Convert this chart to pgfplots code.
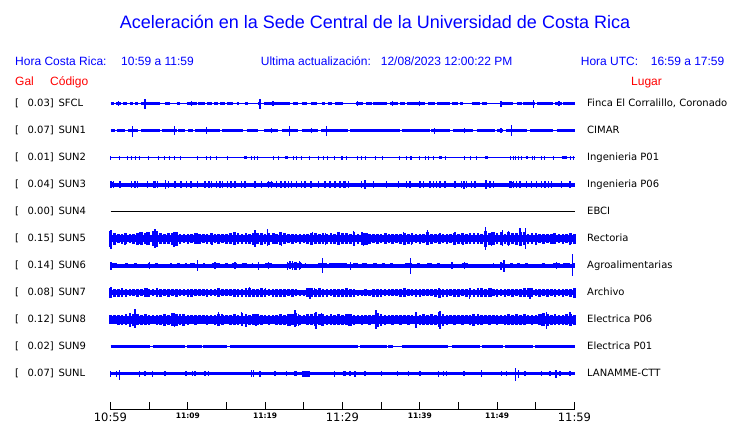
\documentclass[border=0pt]{standalone}
\usepackage{fontspec}
\setmainfont{Liberation Sans}
\newfontfamily\dv{DejaVu Sans}
\usepackage{pgfplots}
\usepackage{pgfplotstable}
\pgfplotsset{compat=1.18}
\definecolor{tb}{RGB}{0,0,255}
\definecolor{tr}{RGB}{255,0,0}
\newcommand\tlL[1]{{\dv\fontsize{11.5}{12}\selectfont #1}}
\newcommand\tlS[1]{{\dv\bfseries\fontsize{7.5}{8}\selectfont #1}}
\pgfplotsset{
 spk/.style={draw=none, mark=none, forget plot, error bars/y dir=both, error bars/y explicit, error bars/error mark=none, error bars/error bar style={draw=tb, line width=#1}},
 seg/.style={tb, line width=#1, forget plot, mark=none},
}
% ---------- data ----------
\pgfplotstableread{
t a
4.46 5
19.33 5
54.68 4
1.0 2.5
10.5 2.5
21 2.5
31.9 2.5
36.5 2.5
40 2.5
50.5 3
58 2.5
}\spkSFCL
\pgfplotstableread{
t up dn
2.82 5 6
8.25 4.5 4.5
12.39 3.5 3.5
23.12 5 5
27.9 5 5
41.88 3 3
45.76 2.2 2.2
51.88 6 5.5
20.84 2.5 2.5
26.0 2.5 2.5
50.5 2.5 2.5
}\spkSUNa
\pgfplotstableread{
t a
0.06 2
1.14 2
2.18 2
2.74 2
3.25 2
3.73 2
4.89 2
6.19 2
6.96 2
7.61 2
8.25 2
8.99 2
11.27 2
12.43 2
12.87 2
13.73 2
15.15 2
18.17 2
18.6 2
19.03 2
21.05 2
21.70 2
23.64 2
24.07 2
24.72 2
25.67 2
26.87 2
27.52 2
28.08 2
28.94 2
29.98 2
29.90 2
30.54 2
31.92 2
32.48 2
32.91 2
34.33 2
35.20 2
37.35 2
38.3 2
38.73 2
38.95 2
40.02 2
40.67 2
41.10 2
41.75 2
43.26 2
45.84 2
46.49 2
47.35 2
51.66 2
52.09 2
52.39 2
52.74 2
53.17 2
54.55 2
54.89 2
55.76 2
56.06 2
57.26 2
59.42 2
59.85 2
}\spkSUNb
\pgfplotstableread{
t a
0.06 3.2
0.37 3.2
1.23 3.2
2.74 3.2
3.17 3.2
3.51 3.2
4.80 3.6
5.54 3.2
5.75 3.2
6.10 3.2
7.13 4.5
7.48 3.2
8.34 3.2
9.12 3.2
9.85 3.2
10.41 3.2
11.27 3.2
12.22 3.2
12.74 3.2
13.08 3.2
13.73 3.2
14.16 3.2
14.46 3.2
15.15 3.2
15.58 3.2
16.10 3.2
16.96 3.2
17.39 3.2
18.68 3.2
19.55 3.2
20.41 3.2
20.84 3.2
21.49 3.2
22.05 3.2
22.56 3.2
22.99 3.2
23.43 3.2
24.07 3.2
24.72 3.2
25.15 3.2
25.92 3.2
26.87 3.2
27.74 3.2
28.38 3.2
29.03 3.2
29.68 3.2
30.1 3.2
30.33 3.2
30.76 3.2
32.48 3.2
32.91 4.5
33.99 3.2
35.71 3.2
37.22 3.2
38.3 3.2
38.73 3.2
40.02 3.2
40.46 3.2
41.32 3.2
41.75 3.2
42.18 3.2
42.61 3.2
43.26 3.2
44.55 3.2
45.41 3.2
45.71 4
46.06 3.2
46.70 3.2
47.14 3.2
48.56 4.5
49.08 3.2
49.51 3.2
51.66 3.2
51.88 3.2
52.09 3.2
52.52 3.2
52.95 3.2
53.82 3.2
54.46 3.2
55.11 3.2
55.76 3.2
56.19 3.2
56.62 3.2
57.05 3.2
58.34 3.2
59.42 3.2
}\spkSUNc
\pgfplotstableread{
t a
0 8
0.5 6
1 4.5
1.5 5
2 5.5
2.5 4.5
3 5
3.5 6
4 6.5
4.5 5.5
5 6.5
5.5 7.5
6 8
6.5 5.5
7 5
7.5 5.5
8 6
8.5 7
9 5
9.5 4.5
10 5
10.5 4.5
11 5.5
11.5 5
12 4.5
12.5 5
13 5.5
13.5 4.5
14 5
14.5 4.5
15 5
15.5 5.5
16 6.5
16.5 5.5
17 5
17.5 5.5
18 5
18.5 6
19 5.5
19.5 6
20 5
20.5 6
21 5.5
21.5 5
22 6.5
22.5 5.5
23 4.5
23.5 5
24 4.5
24.5 5
25 4.5
25.5 5
26 6
26.5 5.5
27 5
27.5 5.5
28 5
28.5 5.5
29 5
29.5 6.5
30 5.5
30.5 5.5
31 5
31.5 7
32 5
32.5 6.5
33 6
33.5 5
34 4.5
34.5 5
35 4.5
35.5 5.5
36 4.5
36.5 5
37 4.5
37.5 5
38 6
38.5 5
39 5.5
39.5 4.5
40 5
40.5 4.5
41 6.5
41.5 5
42 4.5
42.5 5
43 4.5
43.5 5
44 4.5
44.5 6
45 5
45.5 5.5
46 5
46.5 5.5
47 5
47.5 5.5
48 5
48.5 8
49 6
49.5 6.5
50 5.5
50.5 6.5
51 5
51.5 6.5
52 5.5
52.5 6
53 7
53.5 6.5
54 5
54.5 5.5
55 5
55.5 4.5
56 5
56.5 4.5
57 5
57.5 5.5
58 4.5
58.5 5
59 4.5
59.5 5.5
60 5
}\bodySUNe
\pgfplotstableread{
t up dn
0.06 8.3 10.7
1.9 5.5 6
3.8 7 5
4.7 6.5 6
5.75 10 9
6.1 8 7
8.2 6.5 8
11.2 6 5.5
13.1 5.5 6
15.9 6.7 6
18.68 8.7 8
19.5 6 6.5
20.32 9.3 7
21.2 6 5.5
22.13 5.5 7
26.1 6.5 6
27.8 5.5 6
29.46 6.5 6
31.4 7.5 7
32.7 6 7.3
33.2 5.5 6.5
35.6 6 5.5
37.87 6.5 6
38.95 6 6
40.97 8.7 6.7
42.6 5.5 5
44.55 6.5 6
45.6 6 6
47 6 5.5
48.51 11.7 11.7
49.3 6.5 7
50.67 9 7.3
51.45 8 7
52.95 10.7 6.7
53.69 10.7 10
55 5.5 6
57.3 6 5.5
59.4 6 6
}\spkSUNe
\pgfplotstableread{
t up dn
0.06 4 4
5.0 3.5 3.5
11.27 6 5.7
13.5 3.5 3.5
16.1 3.5 3.5
19.11 4 4
20.4 3.5 3.5
22.9 4 4
23.2 4.5 3.5
23.5 4.5 4.5
23.8 3.5 4.5
24.0 4 4
24.4 4.5 4
24.6 3.5 3.5
27.39 7.7 7.3
31.0 4 4
38.82 7.3 8.3
44.15 3.5 3.5
45.8 3.5 3.5
50.5 4 4
50.89 6 6.7
57.7 3.5 3.5
59.72 11.7 10
}\spkSUNf
\pgfplotstableread{
t a
0 5
0.5 4
1 4
1.5 4.5
2 4
2.5 3.5
3 3.5
3.5 4
4 3.5
4.5 4.5
5 4
5.5 3.5
6 4.5
6.5 4
7 3.5
7.5 4
8 3.5
8.5 4
9 3.5
9.5 3.5
10 4
10.5 4
11 3.5
11.5 3.5
12 3.5
12.5 4
13 3.5
13.5 3.5
14 4.5
14.5 3.5
15 3.5
15.5 3.5
16 4
16.5 4
17 4
17.5 4.5
18 4.5
18.5 4
19 4
19.5 4.5
20 4
20.5 3.5
21 4
21.5 4
22 4
22.5 4
23 3.5
23.5 4
24 3.5
24.5 3
25 3
25.5 4.5
26 4.5
26.5 4
27 4.5
27.5 4
28 4
28.5 3.5
29 4
29.5 4
30 4
30.5 4.5
31 4
31.5 4
32 3
32.5 3
33 3.5
33.5 3
34 4
34.5 4
35 4
35.5 3.5
36 3.5
36.5 3.5
37 3.5
37.5 4
38 4.5
38.5 3.5
39 3.5
39.5 4
40 4
40.5 3.5
41 3.5
41.5 3.5
42 4
42.5 5
43 4
43.5 4
44 3.5
44.5 4
45 4
45.5 3.5
46 4
46.5 4.5
47 4
47.5 4.5
48 4.5
48.5 4
49 4.5
49.5 3.5
50 4
50.5 3.5
51 4
51.5 3.5
52 4
52.5 3.5
53 4
53.5 4.5
54 4.5
54.5 4.5
55 3.5
55.5 4
56 3.5
56.5 4
57 3.5
57.5 4
58 3.5
58.5 4
59 3.5
59.5 4
60 5
}\bodySUNg
\pgfplotstableread{
t up dn
0.06 5.3 5.3
4.8 4.5 4.5
18.0 5.3 4
20.0 4.5 4.5
25.8 4.7 6
26.4 4.5 4.5
37.87 4.5 4.5
42.61 3.7 5.7
46.4 4 6
49.2 4.5 4.5
54.25 5 6
59.85 5 5
}\spkSUNg
\pgfplotstableread{
t a
0 4.5
0.5 4.5
1 5
1.5 5
2 5.5
2.5 6.5
3 6
3.5 5.5
4 5
4.5 5.5
5 5
5.5 4.5
6 5
6.5 5
7 6
7.5 5
8 6.5
8.5 6
9 5.5
9.5 6
10 5
10.5 4.5
11 5
11.5 4.5
12 4.5
12.5 5
13 4.5
13.5 5
14 6
14.5 5
15 4.5
15.5 5
16 5.5
16.5 5
17 6.5
17.5 6
18 5
18.5 5.5
19 5.5
19.5 5
20 4.5
20.5 5
21 4.5
21.5 5
22 5.5
22.5 5
23 6
23.5 5.5
24 6.5
24.5 5
25 4.5
25.5 5.5
26 5.5
26.5 6.5
27 5.5
27.5 6
28 5
28.5 5.5
29 5
29.5 5.5
30 5
30.5 5.5
31 6
31.5 5
32 4.5
32.5 5
33 4.5
33.5 5
34 4.5
34.5 7
35 6
35.5 5
36 4.5
36.5 5
37 4.5
37.5 5
38 4.5
38.5 5
39 4.5
39.5 7
40 5
40.5 5.5
41 5
41.5 5.5
42 5
42.5 7.5
43 6
43.5 5
44 4.5
44.5 5
45 4.5
45.5 5
46 4.5
46.5 5
47 6
47.5 5.5
48 5
48.5 4.5
49 5
49.5 4.5
50 5
50.5 4.5
51 5
51.5 5.5
52 5
52.5 5.5
53 5
53.5 5.5
54 4.5
54.5 5
55 4.5
55.5 5.5
56 6.5
56.5 6
57 5
57.5 5.5
58 5
58.5 5
59 5.5
59.5 6
60 5
}\bodySUNh
\pgfplotstableread{
t up dn
2.5 6 7.3
3.17 10.3 8
7.0 6 6
8.3 6.5 7.5
9.4 6 6
13.94 7.3 6
14.4 5.5 5.5
16.96 7.3 6
17.5 5.5 7.3
18.8 5.5 6
23.2 6 6
23.86 9.3 7.3
24.3 6 6
26.57 7.3 9.7
27.3 6.5 6
30.76 6 6.5
34.33 9.3 9.7
35.07 6 6
39.51 7.3 8
42.61 8.3 9
43.04 6 6
46.9 6 6
47.0 6 6
55.8 6 6
56.4 7.3 9
59.42 7.3 5
}\spkSUNh
\pgfplotstableread{
t up dn
0.02 3 3
0.8 3 3
1.14 4 6
3.73 3 3
4.46 2.5 2.5
5.45 3 3
7.05 2.5 2.5
9.76 2.5 2.5
10.58 2.5 2.5
10.93 2.5 2.5
12.22 2.5 2.5
12.65 2.5 2.5
18.25 3.5 3.5
18.47 3.5 3.5
19.33 3 3
21.27 2.5 2.5
22.78 2.5 2.5
23.86 2.5 2.5
24.07 2.5 2.5
28.94 3 3
30.1 2.5 2.5
30.33 2.5 2.5
30.97 2.5 2.5
31.62 3 3
32.91 2.5 2.5
35.07 2.5 2.5
37.09 2.5 2.5
38.52 2.5 2.5
40.02 2.5 2.5
42.39 3 3
43.04 2.5 2.5
43.47 2.5 2.5
45.71 2.5 2.5
48.0 3.5 3.5
50.58 2.5 2.5
51.23 2.5 2.5
52.39 5.3 7
52.74 4 4
53.60 2.5 2.5
55.76 2.5 2.5
56.83 2.5 2.5
57.61 3.7 4.3
58.13 2.5 2.5
59.42 2.5 2.5
}\spkSUNL
\begin{document}
\begin{tikzpicture}
\path[use as bounding box] (0,0) rectangle (740pt,-423pt);
% title and headers
\node[anchor=base, inner sep=0, text=tb, font=\fontsize{18}{20}\selectfont] at (375pt,-28.5pt) {Aceleración en la Sede Central de la Universidad de Costa Rica};
\begin{scope}[every node/.style={anchor=base west, inner sep=0, font=\fontsize{12}{14}\selectfont}]
\node[text=tb] at (15pt,-65pt) {Hora Costa Rica:};
\node[text=tb] at (121pt,-65pt) {10:59 a 11:59};
\node[text=tb] at (260.7pt,-65pt) {Ultima actualización:};
\node[text=tb] at (380.7pt,-65pt) {12/08/2023 12:00:22 PM};
\node[text=tb] at (580.7pt,-65pt) {Hora UTC:};
\node[text=tb] at (650.7pt,-65pt) {16:59 a 17:59};
\node[text=tr] at (15pt,-85pt) {Gal};
\node[text=tr] at (50pt,-85pt) {Código};
\node[text=tr] at (631pt,-85pt) {Lugar};
\end{scope}
\foreach \v/\c/\p [count=\i from 0] in {0.03/SFCL/{Finca El Corralillo, Coronado},0.07/SUN1/CIMAR,0.01/SUN2/Ingenieria P01,0.04/SUN3/Ingenieria P06,0.00/SUN4/EBCI,0.15/SUN5/Rectoria,0.14/SUN6/Agroalimentarias,0.08/SUN7/Archivo,0.12/SUN8/Electrica P06,0.02/SUN9/Electrica P01,0.07/SUNL/LANAMME-CTT}{
 \pgfmathsetmacro\yy{-(106.5+27*\i)}
 \node[anchor=base west, inner sep=0, font={\dv\fontsize{10}{12}\selectfont}] at (15pt,\yy pt) {[};
 \node[anchor=base east, inner sep=0, font={\dv\fontsize{10}{12}\selectfont}] at (54pt,\yy pt) {\v]};
 \node[anchor=base west, inner sep=0, font={\dv\fontsize{10}{12}\selectfont}] at (58.3pt,\yy pt) {\c};
 \node[anchor=base west, inner sep=0, font={\dv\fontsize{10}{12}\selectfont}] at (587pt,\yy pt) {\p};
}
\begin{axis}[
 at={(110.5pt,-409.5pt)}, anchor=south west,
 scale only axis, width=464pt, height=334.5pt,
 xmin=0, xmax=60, ymin=13.5, ymax=348,
 axis x line=bottom, axis y line=none,
 axis line style={-, black, line width=0.8pt},
 xtick={0,5,...,60}, tick align=inside, major tick length=8pt,
 every tick/.style={black, line width=0.7pt},
 xticklabels={\tlL{10:59},{},\tlS{11:09},{},\tlS{11:19},{},\tlL{11:29},{},\tlS{11:39},{},\tlS{11:49},{},\tlL{11:59}},
 xticklabel style={inner sep=0pt, anchor=north, yshift=-2.8pt},
 clip=false, unbounded coords=jump,
]
% SFCL
\addplot[seg=0.9pt] coordinates {(0,319.5)(60,319.5)};
\addplot[seg=2.7pt] coordinates {(0,319.5)(0.5,319.5)(0.5,nan)(0.71,319.5)(1.36,319.5)(1.36,nan)(1.66,319.5)(2.09,319.5)(2.09,nan)(2.52,319.5)(2.95,319.5)(2.95,nan)(3.17,319.5)(3.6,319.5)(3.6,nan)(3.94,319.5)(6.4,319.5)(6.4,nan)(7.05,319.5)(7.69,319.5)(7.69,nan)(8.55,319.5)(8.99,319.5)(8.99,nan)(9.85,319.5)(11.14,319.5)(11.14,nan)(11.36,319.5)(12.22,319.5)(12.22,nan)(12.43,319.5)(13.08,319.5)(13.08,nan)(13.43,319.5)(13.94,319.5)(13.94,nan)(14.16,319.5)(14.8,319.5)(14.8,nan)(15.02,319.5)(15.88,319.5)(15.88,nan)(16.31,319.5)(16.6,319.5)(16.6,nan)(17.39,319.5)(17.82,319.5)(17.82,nan)(19.1,319.5)(19.5,319.5)(19.5,nan)(19.89,319.5)(23.2,319.5)(23.2,nan)(23.64,319.5)(24.29,319.5)(24.29,nan)(24.72,319.5)(25.36,319.5)(25.36,nan)(25.92,319.5)(26.66,319.5)(26.66,nan)(27.3,319.5)(27.74,319.5)(27.74,nan)(28.08,319.5)(28.6,319.5)(28.6,nan)(29.0,319.5)(30.1,319.5)(30.1,nan)(31.75,319.5)(32.7,319.5)(32.7,nan)(33.04,319.5)(33.77,319.5)(33.77,nan)(33.99,319.5)(35.7,319.5)(35.7,nan)(36.15,319.5)(37.2,319.5)(37.2,nan)(37.44,319.5)(38.08,319.5)(38.08,nan)(38.3,319.5)(40.67,319.5)(40.67,nan)(41.1,319.5)(41.96,319.5)(41.96,nan)(42.18,319.5)(43.9,319.5)(43.9,nan)(44.12,319.5)(44.98,319.5)(44.98,nan)(45.2,319.5)(45.63,319.5)(45.63,nan)(46.7,319.5)(47.78,319.5)(47.78,nan)(48.0,319.5)(48.64,319.5)(48.64,nan)(50.37,319.5)(52.1,319.5)(52.1,nan)(52.5,319.5)(53.17,319.5)(53.17,nan)(53.4,319.5)(54.9,319.5)(54.9,nan)(55.1,319.5)(57.27,319.5)(57.27,nan)(57.48,319.5)(58.34,319.5)(58.34,nan)(58.56,319.5)(60,319.5)};
\addplot[spk=1.2pt] table[x=t, y expr=319.5, y error=a] {\spkSFCL};
% SUN1
\addplot[seg=0.9pt] coordinates {(0,292.5)(60,292.5)};
\addplot[seg=3.3pt] coordinates {(0,292.5)(0.58,292.5)(0.58,nan)(0.8,292.5)(1.88,292.5)(1.88,nan)(2.22,292.5)(3.6,292.5)(3.6,nan)(3.94,292.5)(6.4,292.5)(6.4,nan)(6.62,292.5)(8.56,292.5)(8.56,nan)(8.77,292.5)(9.63,292.5)(9.63,nan)(10.06,292.5)(10.7,292.5)(10.7,nan)(10.93,292.5)(14.16,292.5)(14.16,nan)(14.46,292.5)(17.17,292.5)(17.17,nan)(17.6,292.5)(19.1,292.5)(19.1,nan)(19.89,292.5)(21.7,292.5)(21.7,nan)(22.13,292.5)(24.29,292.5)(24.29,nan)(24.72,292.5)(26.87,292.5)(26.87,nan)(27.22,292.5)(30.76,292.5)(30.76,nan)(30.97,292.5)(37.44,292.5)(37.44,nan)(37.65,292.5)(41.3,292.5)(41.3,nan)(41.5,292.5)(43.9,292.5)(43.9,nan)(44.25,292.5)(46.92,292.5)(46.92,nan)(47.35,292.5)(49.72,292.5)(49.72,nan)(49.94,292.5)(50.8,292.5)(50.8,nan)(51.2,292.5)(53.8,292.5)(53.8,nan)(54.25,292.5)(57.27,292.5)(57.27,nan)(57.7,292.5)(60,292.5)};
\addplot[spk=1.2pt] table[x=t, y expr=292.5, y error plus=up, y error minus=dn] {\spkSUNa};
% SUN2
\addplot[seg=1pt] coordinates {(0,265.5)(60,265.5)};
\addplot[seg=2.5pt] coordinates {(17.3,265.5)(17.6,265.5)(17.6,nan)(22.56,265.5)(22.91,265.5)(22.91,nan)(42.5,265.5)(42.83,265.5)(42.83,nan)(48.43,265.5)(48.86,265.5)(48.86,nan)(53.69,265.5)(53.99,265.5)(53.99,nan)(58.34,265.5)(58.99,265.5)};
\addplot[spk=1pt] table[x=t, y expr=265.5, y error=a] {\spkSUNb};
% SUN3
\addplot[seg=4pt] coordinates {(0,238.5)(60,238.5)};
\addplot[seg=5.2pt] coordinates {(0,238.5)(0.5,238.5)(0.5,nan)(20.3,238.5)(21.0,238.5)(21.0,nan)(51.6,238.5)(52.1,238.5)};
\addplot[spk=1.2pt] table[x=t, y expr=238.5, y error=a] {\spkSUNc};
% SUN4
\addplot[black, line width=0.7pt, mark=none, forget plot] coordinates {(0,211.5)(60,211.5)};
% SUN5
\addplot[seg=7.6pt] coordinates {(0,184.5)(60,184.5)};
\addplot[spk=2.6pt] table[x=t, y expr=184.5, y error=a] {\bodySUNe};
\addplot[spk=1.4pt] table[x=t, y expr=184.5, y error plus=up, y error minus=dn] {\spkSUNe};
% SUN6
\addplot[seg=4pt] coordinates {(0,157.5)(60,157.5)};
\addplot[seg=5pt] coordinates {(0,157.5)(0.8,157.5)(0.8,nan)(1.88,157.5)(2.31,157.5)(2.31,nan)(3.08,157.5)(3.38,157.5)(3.38,nan)(4.8,157.5)(5.0,157.5)(5.0,nan)(5.75,157.5)(6.19,157.5)(6.19,nan)(7.69,157.5)(7.91,157.5)(7.91,nan)(8.56,157.5)(8.99,157.5)(8.99,nan)(9.63,157.5)(9.9,157.5)(9.9,nan)(10.3,157.5)(10.93,157.5)(10.93,nan)(12.0,157.5)(12.22,157.5)(12.22,nan)(13.08,157.5)(14.16,157.5)(14.16,nan)(14.81,157.5)(15.24,157.5)(15.24,nan)(15.67,157.5)(16.31,157.5)(16.31,nan)(16.96,157.5)(17.61,157.5)(17.61,nan)(18.25,157.5)(18.47,157.5)(18.47,nan)(19.98,157.5)(20.84,157.5)(20.84,nan)(22.78,157.5)(24.72,157.5)(24.72,nan)(25.1,157.5)(25.25,157.5)(25.25,nan)(26.87,157.5)(27.95,157.5)(27.95,nan)(28.2,157.5)(30.54,157.5)(30.54,nan)(31.4,157.5)(32.05,157.5)(32.05,nan)(32.48,157.5)(33.13,157.5)(33.13,nan)(33.99,157.5)(34.42,157.5)(34.42,nan)(35.07,157.5)(35.5,157.5)(35.5,nan)(36.15,157.5)(36.58,157.5)(36.58,nan)(38.08,157.5)(38.95,157.5)(38.95,nan)(39.59,157.5)(40.02,157.5)(40.02,nan)(40.97,157.5)(41.53,157.5)(41.53,nan)(42.18,157.5)(42.61,157.5)(42.61,nan)(44.1,157.5)(44.25,157.5)(44.25,nan)(45.41,157.5)(46.27,157.5)(46.27,nan)(49.5,157.5)(49.65,157.5)(49.65,nan)(50.37,157.5)(51.01,157.5)(51.01,nan)(51.66,157.5)(52.09,157.5)(52.09,nan)(52.52,157.5)(52.95,157.5)(52.95,nan)(53.6,157.5)(54.03,157.5)(54.03,nan)(55.76,157.5)(56.19,157.5)(56.19,nan)(57.26,157.5)(58.13,157.5)(58.13,nan)(58.56,157.5)(59.42,157.5)(59.42,nan)(59.85,157.5)(60,157.5)};
\addplot[spk=1.3pt] table[x=t, y expr=157.5, y error plus=up, y error minus=dn] {\spkSUNf};
% SUN7
\addplot[seg=5.6pt] coordinates {(0,130.5)(60,130.5)};
\addplot[spk=2.6pt] table[x=t, y expr=130.5, y error=a] {\bodySUNg};
\addplot[spk=1.3pt] table[x=t, y expr=130.5, y error plus=up, y error minus=dn] {\spkSUNg};
% SUN8
\addplot[seg=8pt] coordinates {(0,103.5)(60,103.5)};
\addplot[spk=2.6pt] table[x=t, y expr=103.5, y error=a] {\bodySUNh};
\addplot[spk=1.4pt] table[x=t, y expr=103.5, y error plus=up, y error minus=dn] {\spkSUNh};
% SUN9
\addplot[seg=1pt] coordinates {(0,76.5)(60,76.5)};
\addplot[seg=3.4pt] coordinates {(0,76.5)(5.11,76.5)(5.11,nan)(5.54,76.5)(9.63,76.5)(9.63,nan)(9.85,76.5)(11.79,76.5)(11.79,nan)(12.0,76.5)(15.02,76.5)(15.02,nan)(15.45,76.5)(32.05,76.5)(32.05,nan)(32.27,76.5)(35.71,76.5)(35.71,nan)(35.93,76.5)(36.58,76.5)(36.58,nan)(37.65,76.5)(43.69,76.5)(43.69,nan)(44.12,76.5)(47.78,76.5)(47.78,nan)(48.0,76.5)(50.8,76.5)(50.8,nan)(51.01,76.5)(54.68,76.5)(54.68,nan)(54.89,76.5)(60,76.5)};
% SUNL
\addplot[seg=3.4pt] coordinates {(0,49.5)(60,49.5)};
\addplot[seg=6pt] coordinates {(24.72,49.5)(25.8,49.5)};
\addplot[spk=1.2pt] table[x=t, y expr=49.5, y error plus=up, y error minus=dn] {\spkSUNL};
\end{axis}
\end{tikzpicture}
\end{document}
